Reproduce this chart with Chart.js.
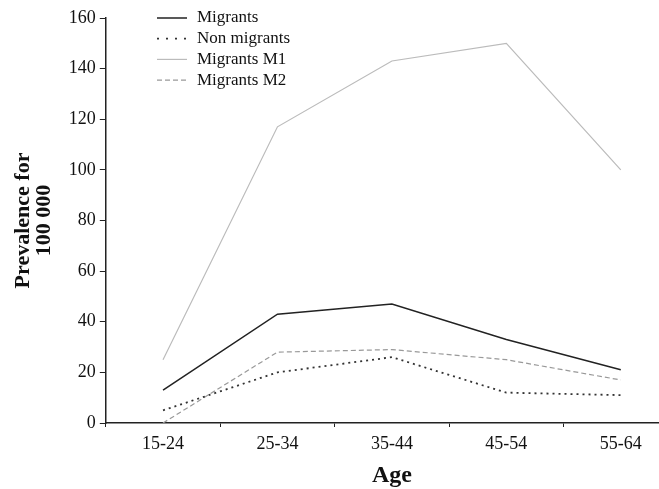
<!DOCTYPE html>
<html>
<head>
<meta charset="utf-8">
<script src="https://cdn.jsdelivr.net/npm/chart.js@4"></script>
<style>
  html, body { margin: 0; padding: 0; background: #fff; overflow: hidden; }
  #wrap { width: 690px; height: 489px; }
</style>
</head>
<body>
<div id="wrap"><canvas id="chart" width="690" height="489"></canvas></div>
<script>
// Datos del gráfico
const ageGroups = ['15-24', '25-34', '35-44', '45-54', '55-64'];
const migrants = [13, 43, 47, 33, 21];
const nonMigrants = [5, 20, 26, 12, 11];
const migrantsM1 = [25, 117, 143, 150, 100];
const migrantsM2 = [0, 28, 29, 25, 17];
const yTicks = [0, 20, 40, 60, 80, 100, 120, 140, 160];

const serif = "'Liberation Serif', 'DejaVu Serif', serif";

// Leyenda dibujada dentro del área del gráfico
const insideLegend = {
    id: 'insideLegend',
    afterDraw(chart) {
        const ctx = chart.ctx;
        const x0 = 157;
        let y = 18;
        ctx.save();
        ctx.font = '17px ' + serif;
        ctx.textBaseline = 'middle';
        chart.data.datasets.forEach(ds => {
            ctx.strokeStyle = ds.borderColor;
            ctx.lineWidth = ds.borderWidth;
            ctx.setLineDash(ds.legendDash || ds.borderDash || []);
            ctx.beginPath();
            ctx.moveTo(x0, y);
            ctx.lineTo(x0 + 30, y);
            ctx.stroke();
            ctx.setLineDash([]);
            ctx.fillStyle = '#111';
            ctx.fillText(ds.label, x0 + 40, y);
            y += 20.7;
        });
        ctx.restore();
    }
};

const ctx = document.getElementById('chart').getContext('2d');
new Chart(ctx, {
    type: 'line',
    data: {
        labels: ageGroups,
        datasets: [
            { label: 'Migrants', data: migrants, borderColor: '#222', borderWidth: 1.5 },
            { label: 'Non migrants', data: nonMigrants, borderColor: '#333', borderWidth: 1.8, borderDash: [2, 4], legendDash: [2, 7] },
            { label: 'Migrants M1', data: migrantsM1, borderColor: '#bbb', borderWidth: 1.2 },
            { label: 'Migrants M2', data: migrantsM2, borderColor: '#999', borderWidth: 1.2, borderDash: [5, 3] }
        ].map(ds => Object.assign(ds, { fill: false, tension: 0, pointRadius: 0 }))
    },
    options: {
        responsive: false,
        animation: false,
        layout: { padding: { top: 18, right: 12, left: 13, bottom: 0 } },
        plugins: {
            legend: { display: false },
            tooltip: { enabled: false }
        },
        scales: {
            x: {
                offset: true,
                grid: { drawOnChartArea: false, offset: true, tickLength: 4, color: '#222' },
                border: { color: '#222', width: 1.5 },
                ticks: { color: '#111', font: { family: serif, size: 18 }, padding: 6 },
                title: { display: true, text: 'Age', color: '#111', font: { family: serif, size: 24, weight: 'bold', lineHeight: 1.1 }, padding: { top: 2, bottom: 0 } }
            },
            y: {
                min: 0,
                max: 160,
                afterBuildTicks: axis => { axis.ticks = yTicks.map(v => ({ value: v })); },
                grid: { drawOnChartArea: false, tickLength: 6, color: '#222' },
                border: { color: '#222', width: 1.5 },
                ticks: { color: '#111', font: { family: serif, size: 18 }, padding: 4 },
                title: { display: true, text: ['Prevalence for', '100 000'], color: '#111', font: { family: serif, size: 22, weight: 'bold', lineHeight: 0.95 }, padding: { top: 0, bottom: 10 } }
            }
        }
    },
    plugins: [insideLegend]
});
</script>
</body>
</html>
